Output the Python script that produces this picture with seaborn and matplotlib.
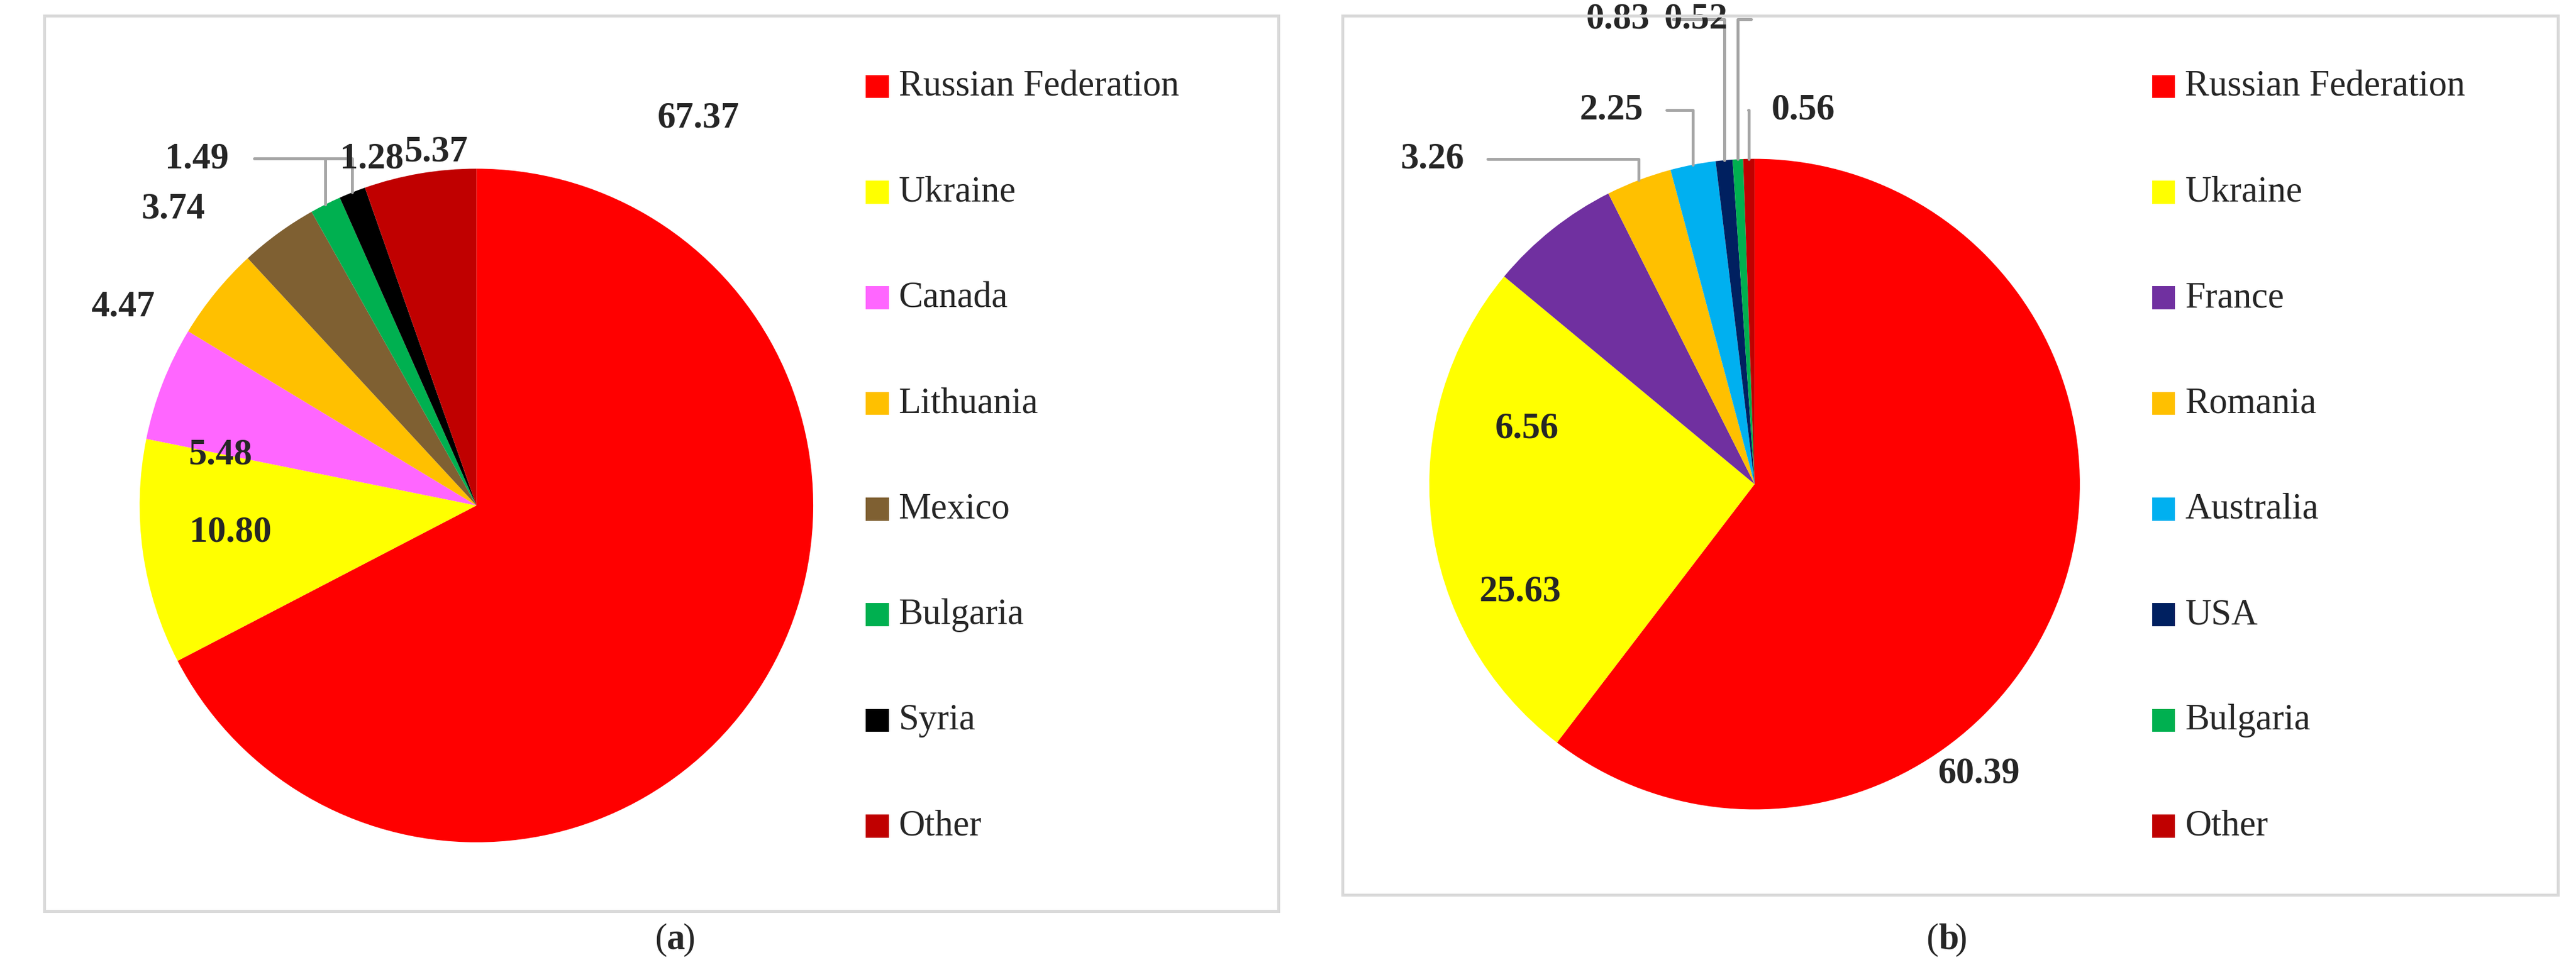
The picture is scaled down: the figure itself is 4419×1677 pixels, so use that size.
import numpy as np
import matplotlib.pyplot as plt
import seaborn as sns
from matplotlib.patches import Rectangle

sns.set_theme(style="white")
plt.rcParams['font.family'] = ['Liberation Serif', 'DejaVu Serif']

# panel (a)
names_a = ['Russian Federation', 'Ukraine', 'Canada', 'Lithuania', 'Mexico', 'Bulgaria', 'Syria', 'Other']
values_a = [67.37, 10.80, 5.48, 4.47, 3.74, 1.49, 1.28, 5.37]
colors_a = ['#FF0000', '#FFFF00', '#FF66FF', '#FFC000', '#7F6032', '#00B050', '#000000', '#C00000']
# panel (b)
names_b = ['Russian Federation', 'Ukraine', 'France', 'Romania', 'Australia', 'USA', 'Bulgaria', 'Other']
values_b = [60.39, 25.63, 6.56, 3.26, 2.25, 0.83, 0.52, 0.56]
colors_b = ['#FF0000', '#FFFF00', '#7030A0', '#FFC000', '#00B0F0', '#002060', '#00B050', '#C00000']

# label placement (relative to pie radius) and whether a leader line is drawn
pos_a = [(0.66, 1.15), (-0.73, -0.08), (-0.76, 0.15), (-1.05, 0.59), (-0.90, 0.88),
         (-0.83, 1.03), (-0.31, 1.03), (-0.12, 1.05)]
lead_a = [False, False, False, False, False, True, True, False]
pos_b = [(0.69, -0.89), (-0.72, -0.33), (-0.70, 0.17), (-0.99, 1.0), (-0.44, 1.15),
         (-0.42, 1.43), (-0.18, 1.43), (0.15, 1.15)]
lead_b = [False, False, False, True, True, True, True, True]

W, H = 1568, 595
fig = plt.figure(figsize=(14.73, 5.593), dpi=300)


def draw(values, names, colors, pos, lead, cx, cy, r, box, leg_x, tag, tag_x):
    ax = fig.add_axes([(cx - r) / W, 1 - (cy + r) / H, 2 * r / W, 2 * r / H])
    ax.pie(values, colors=colors, startangle=90, counterclock=False,
           wedgeprops=dict(linewidth=0))
    ax.set_xlim(-1, 1)
    ax.set_ylim(-1, 1)
    ax.set_aspect('auto')
    ax.axis('off')
    total = sum(values)
    start = 90.0
    for v, (px, py), ld in zip(values, pos, lead):
        mid = np.deg2rad(start - v / total * 180)
        start -= v / total * 360
        ax.text(px, py, f'{v:.2f}', ha='center', va='center', fontsize=15,
                fontweight='bold', clip_on=False)
        if ld:
            ex, ey = np.cos(mid), np.sin(mid)
            lx = px + (0.17 if px < ex else -0.17)
            ax.plot([lx, ex, ex], [py, py, ey], color='#A6A6A6', lw=1.2, clip_on=False)
    x0, y0, x1, y1 = box
    fig.patches.append(Rectangle((x0 / W, 1 - y1 / H), (x1 - x0) / W, (y1 - y0) / H,
                                 transform=fig.transFigure, fill=False,
                                 edgecolor='#D9D9D9', lw=1.2))
    for i, (n, c) in enumerate(zip(names, colors)):
        y = 53 + 64.3 * i
        fig.patches.append(Rectangle((leg_x / W, 1 - (y + 7) / H), 14 / W, 14 / H,
                                     transform=fig.transFigure, facecolor=c, edgecolor='none'))
        fig.text((leg_x + 20) / W, 1 - y / H, n, ha='left', va='center', fontsize=15)
    fig.text(tag_x / W, 1 - 572 / H, '(', ha='right', va='center', fontsize=15)
    fig.text(tag_x / W, 1 - 572 / H, tag, ha='left', va='center', fontsize=15, fontweight='bold')
    fig.text((tag_x + 10) / W, 1 - 572 / H, ')', ha='left', va='center', fontsize=15)


draw(values_a, names_a, colors_a, pos_a, lead_a, 290, 308, 205, (27, 10, 778, 555), 527, 'a', 406)
draw(values_b, names_b, colors_b, pos_b, lead_b, 1068, 295, 198, (817, 10, 1557, 545), 1310, 'b', 1180)

fig.savefig('out.png', dpi=300, facecolor='white')
